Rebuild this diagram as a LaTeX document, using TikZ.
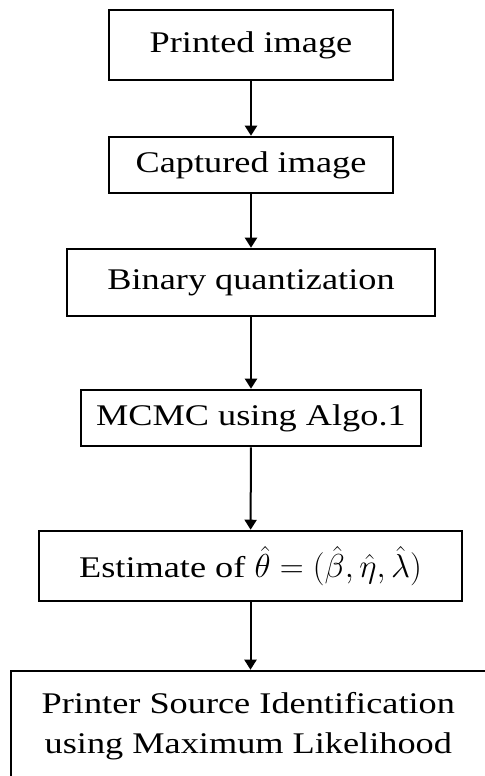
\documentclass[tikz,border=0pt]{standalone}
\usepackage{fontspec}
\setmainfont[FakeStretch=1.21]{Liberation Serif}
\usetikzlibrary{arrows.meta}
\tikzset{
  box/.style={draw=black, line width=1.9pt, rectangle, inner sep=0pt, align=center,
    font=\fontsize{22.5}{30}\selectfont},
  arr/.style={draw=black, line width=1.5pt, -{Triangle[width=9pt,length=7.5pt]}}
}
\begin{document}
\begin{tikzpicture}[x=0.75pt,y=-0.75pt]
\useasboundingbox (0,0) rectangle (485,776);
\clip (0,0) rectangle (485,776);
\node[box, minimum width=213pt, minimum height=52.5pt] (b1) at (251,45) {Printed image};
\node[box, minimum width=213pt, minimum height=42pt] (b2) at (251,165) {Captured image};
\node[box, minimum width=276pt, minimum height=50.25pt] (b3) at (251,282.5) {Binary quantization};
\node[box, minimum width=255pt, minimum height=42pt] (b4) at (251,418) {MCMC using Algo.1};
\node[box, minimum width=317.25pt, minimum height=52.5pt] (b5) at (250.5,566) {Estimate of {\fontsize{25}{30}\selectfont$\hat{\theta}=(\hat{\beta},\hat{\eta},\hat{\lambda})$}};
\node[box, minimum width=420pt, minimum height=82.5pt] (b6) at (291,726) {\hspace*{-64pt}Printer Source Identification\\\hspace*{-64pt}using Maximum Likelihood};
\draw[arr] (b1) -- (b2);
\draw[arr] (b2) -- (b3);
\draw[arr] (b3) -- (b4);
\draw[arr] (b4) -- (b5);
\draw[arr] (b5) -- (b5 |- b6.north);
\end{tikzpicture}
\end{document}
